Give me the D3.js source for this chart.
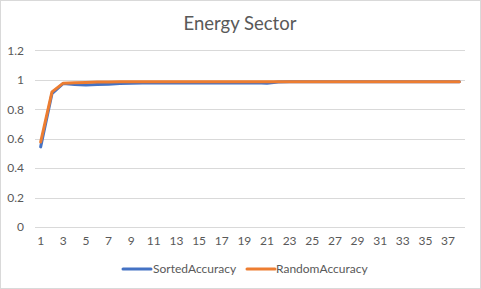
<!DOCTYPE html>
<html><head><meta charset="utf-8">
<script src="https://cdn.jsdelivr.net/npm/d3@7"></script>
<style>body{margin:0;background:#fff}svg{display:block}</style>
</head><body>
<script>
const categories = d3.range(1, 39).map(String);
const sortedAccuracy = [0.544,0.905,0.975,0.968,0.965,0.967,0.969,0.974,0.977,0.978,0.978,0.978,0.978,0.978,0.978,0.978,0.978,0.978,0.978,0.980,0.977,0.985,0.986,0.986,0.986,0.986,0.986,0.986,0.986,0.986,0.986,0.986,0.986,0.986,0.986,0.986,0.986,0.986];
const randomAccuracy = [0.577,0.918,0.977,0.980,0.982,0.984,0.985,0.986,0.986,0.986,0.986,0.986,0.986,0.986,0.986,0.986,0.986,0.986,0.986,0.986,0.986,0.986,0.986,0.986,0.986,0.986,0.986,0.986,0.986,0.986,0.986,0.986,0.986,0.986,0.986,0.986,0.986,0.986];
const yTicks = [0,0.2,0.4,0.6,0.8,1,1.2];
const seriesNames = ["SortedAccuracy","RandomAccuracy"];
const colors = ["#4472C4","#ED7D31"];

const W=481,H=289;
const svg=d3.select("body").append("svg").attr("width",W).attr("height",H);
svg.append("rect").attr("x",0.5).attr("y",0.5).attr("width",W-1).attr("height",H-1).attr("fill","#fff").attr("stroke","#D9D9D9");
const font="Lato, 'Open Sans', sans-serif";
svg.append("text").attr("x",240).attr("y",30).attr("text-anchor","middle").attr("font-family",font).attr("font-size",18.5).attr("fill","#595959").text("Energy Sector");

const x=d3.scaleBand().domain(categories).range([35,465]);
const y=d3.scaleLinear().domain([0,1.2]).range([227,50.3]);

svg.append("g").selectAll("line").data(yTicks).join("line")
 .attr("x1",35).attr("x2",465).attr("y1",d=>Math.round(y(d))+0.5).attr("y2",d=>Math.round(y(d))+0.5)
 .attr("stroke","#D9D9D9").attr("stroke-width",1);

const yAxis=svg.append("g").attr("transform","translate(28,0)").call(d3.axisLeft(y).tickValues(yTicks).tickSize(0).tickPadding(4).tickFormat(d=>String(+d.toFixed(1))));
yAxis.select(".domain").remove();
yAxis.selectAll("text").attr("font-family",font).attr("font-size",12).attr("fill","#595959");

const xAxis=svg.append("g").attr("transform","translate(0,234)").call(d3.axisBottom(x).tickValues(categories.filter((d,i)=>i%2===0)).tickSize(0).tickPadding(2));
xAxis.select(".domain").remove();
xAxis.selectAll("text").attr("font-family",font).attr("font-size",12).attr("fill","#595959");

const line=d3.line().x((d,i)=>x(categories[i])+x.bandwidth()/2).y(d=>y(d));
[sortedAccuracy,randomAccuracy].forEach((s,k)=>{
  svg.append("path").attr("d",line(s)).attr("fill","none").attr("stroke",colors[k]).attr("stroke-width",3).attr("stroke-linejoin","round").attr("stroke-linecap","round");
});

const leg=[{x:123,tx:153},{x:247,tx:276}];
seriesNames.forEach((n,k)=>{
  svg.append("line").attr("x1",leg[k].x).attr("x2",leg[k].x+28).attr("y1",269).attr("y2",269).attr("stroke",colors[k]).attr("stroke-width",3).attr("stroke-linecap","round");
  svg.append("text").attr("x",leg[k].tx).attr("y",273).attr("font-family",font).attr("font-size",12).attr("fill","#595959").text(n);
});
</script>
</body></html>
